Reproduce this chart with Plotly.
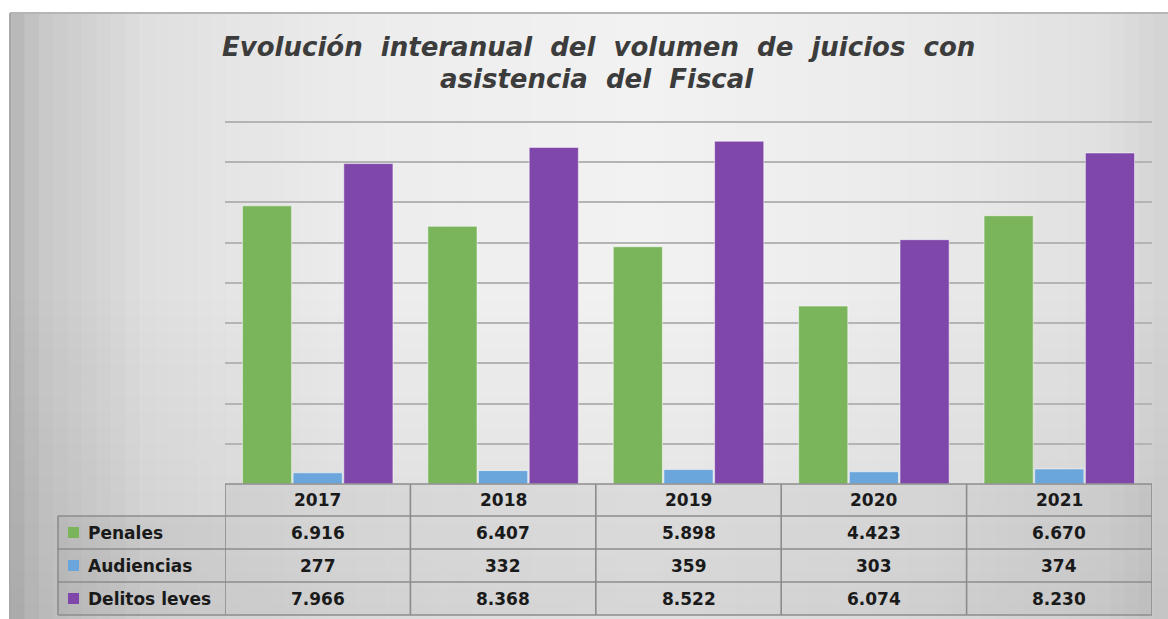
import plotly.graph_objects as go

# ---------------- data ----------------
years = ["2017", "2018", "2019", "2020", "2021"]
penales = [6916, 6407, 5898, 4423, 6670]
audiencias = [277, 332, 359, 303, 374]
delitos_leves = [7966, 8368, 8522, 6074, 8230]
series_names = ["Penales", "Audiencias", "Delitos leves"]
title_lines = ["Evolución  interanual  del  volumen  de  juicios  con", "asistencia  del  Fiscal"]

def fmt(v):
    return f"{v:,}".replace(",", ".")

# ---------------- layout constants ----------------
W, H = 1168, 619
colors = ["#7ab55c", "#6aa5dc", "#7f47a9"]

def px_x(x):
    return x / W

def px_y(y):
    return 1 - y / H

plot_left, plot_right = 225, 1152
plot_top, plot_bottom = 122, 484   # pixel rows of 9000 and 0
ymax = 9000
pad_px = 8
axis_top_px = plot_top - pad_px
range_top = ymax * (plot_bottom - axis_top_px) / (plot_bottom - plot_top)

fig = go.Figure()
series = [penales, audiencias, delitos_leves]
for name, vals, c in zip(series_names, series, colors):
    fig.add_trace(go.Bar(x=years, y=vals, name=name,
                         marker=dict(color=c, line=dict(color="rgba(255,255,255,0.5)", width=1))))

shapes = []
# background gradient stripes
def bg_color(t):
    stops = [(0.0, 185), (0.02, 200), (0.12, 224), (0.3, 236), (0.55, 242), (0.8, 234), (0.95, 224), (1.0, 212)]
    for (a, ca), (b, cb) in zip(stops[:-1], stops[1:]):
        if a <= t <= b:
            f = (t - a) / (b - a) if b > a else 0
            v = int(round(ca + (cb - ca) * f))
            return f"rgb({v},{v},{v})"
    return "rgb(212,212,212)"

n = 80
x0 = 10
for i in range(n):
    xa = x0 + (W - x0) * i / n
    xb = x0 + (W - x0) * (i + 1) / n + 0.5
    shapes.append(dict(type="rect", xref="paper", yref="paper", x0=px_x(xa), x1=px_x(xb), y0=0, y1=px_y(13),
                       fillcolor=bg_color(i / (n - 1)), line=dict(width=0), layer="below"))
# slight darkening toward the bottom
m = 20
for j in range(m):
    ya = 300 + (619 - 300) * j / m
    yb = 300 + (619 - 300) * (j + 1) / m
    a = 0.07 * (j + 1) / m
    shapes.append(dict(type="rect", xref="paper", yref="paper", x0=px_x(10), x1=1, y0=px_y(yb), y1=px_y(ya),
                       fillcolor=f"rgba(0,0,0,{a:.3f})", line=dict(width=0), layer="below"))
# frame border top/left
shapes.append(dict(type="line", xref="paper", yref="paper", x0=px_x(10), x1=1, y0=px_y(13), y1=px_y(13),
                   line=dict(color="#b5b5b5", width=2), layer="below"))
shapes.append(dict(type="line", xref="paper", yref="paper", x0=px_x(10), x1=px_x(10), y0=0, y1=px_y(13),
                   line=dict(color="#a8a8a8", width=2), layer="below"))

# table
border = dict(color="#8c8c8c", width=1.6)
row_y = [484, 516, 549, 582, 615]
label_left = 58
shapes.append(dict(type="rect", xref="x", yref="paper", x0=-0.5, x1=4.5, y0=px_y(row_y[1]), y1=px_y(row_y[0]),
                   fillcolor="rgba(90,90,90,0.07)", line=dict(width=0), layer="below"))
shapes.append(dict(type="rect", xref="paper", yref="paper", x0=px_x(label_left), x1=px_x(plot_right),
                   y0=px_y(row_y[-1]), y1=px_y(row_y[1]),
                   fillcolor="rgba(90,90,90,0.07)", line=dict(width=0), layer="below"))
shapes.append(dict(type="line", xref="x", yref="paper", x0=-0.5, x1=4.5, y0=px_y(row_y[0]), y1=px_y(row_y[0]), line=border))
for y in row_y[1:]:
    shapes.append(dict(type="line", xref="paper", yref="paper", x0=px_x(label_left), x1=px_x(plot_right),
                       y0=px_y(y), y1=px_y(y), line=border))
shapes.append(dict(type="line", xref="paper", yref="paper", x0=px_x(label_left), x1=px_x(label_left),
                   y0=px_y(row_y[1]), y1=px_y(row_y[-1]), line=border))
for k in range(len(years) + 1):
    shapes.append(dict(type="line", xref="x", yref="paper", x0=k - 0.5, x1=k - 0.5,
                       y0=px_y(row_y[0]), y1=px_y(row_y[-1]), line=border))

annotations = []
tfont = dict(family="DejaVu Sans", size=17, color="#1a1a1a")
for i, yr in enumerate(years):
    annotations.append(dict(x=i, xref="x", yref="paper", y=px_y((row_y[0] + row_y[1]) / 2), text=f"<b>{yr}</b>",
                            showarrow=False, font=tfont, xanchor="center", yanchor="middle"))
for r, (name, vals, c) in enumerate(zip(series_names, series, colors)):
    yc = (row_y[r + 1] + row_y[r + 2]) / 2
    shapes.append(dict(type="rect", xref="paper", yref="paper", x0=px_x(68), x1=px_x(79),
                       y0=px_y(yc + 5.5), y1=px_y(yc - 5.5), fillcolor=c, line=dict(width=0)))
    annotations.append(dict(x=px_x(86), xref="paper", yref="paper", y=px_y(yc), text=f"<b>{name}</b>",
                            showarrow=False, font=tfont, xanchor="left", yanchor="middle"))
    for i, v in enumerate(vals):
        annotations.append(dict(x=i, xref="x", yref="paper", y=px_y(yc), text=f"<b>{fmt(v)}</b>",
                                showarrow=False, font=tfont, xanchor="center", yanchor="middle"))

# title
title_font = dict(family="DejaVu Sans", size=26, color="#3c3c3c")
annotations.append(dict(x=px_x(598), y=px_y(47), xref="paper", yref="paper", text=f"<b><i>{title_lines[0]}</i></b>",
                        showarrow=False, font=title_font, xanchor="center", yanchor="middle"))
annotations.append(dict(x=px_x(597), y=px_y(79), xref="paper", yref="paper", text=f"<b><i>{title_lines[1]}</i></b>",
                        showarrow=False, font=title_font, xanchor="center", yanchor="middle"))

fig.update_layout(
    width=W, height=H,
    margin=dict(l=0, r=0, t=0, b=0),
    paper_bgcolor="white", plot_bgcolor="rgba(0,0,0,0)",
    showlegend=False,
    barmode="group", bargap=0.18, bargroupgap=0.03,
    xaxis=dict(domain=[px_x(plot_left), px_x(plot_right)], range=[-0.5, 4.5], showticklabels=False,
               showgrid=False, zeroline=False, showline=False, type="category"),
    yaxis=dict(domain=[px_y(plot_bottom), px_y(axis_top_px)], range=[0, range_top],
               tickmode="linear", tick0=0, dtick=1000,
               showticklabels=False, showgrid=True, gridcolor="#b4b4b4", gridwidth=1.5,
               zeroline=False, showline=False),
    shapes=shapes, annotations=annotations,
)

fig.write_html("out.html", config={"displayModeBar": False}, post_script="document.body.style.margin='0';")
